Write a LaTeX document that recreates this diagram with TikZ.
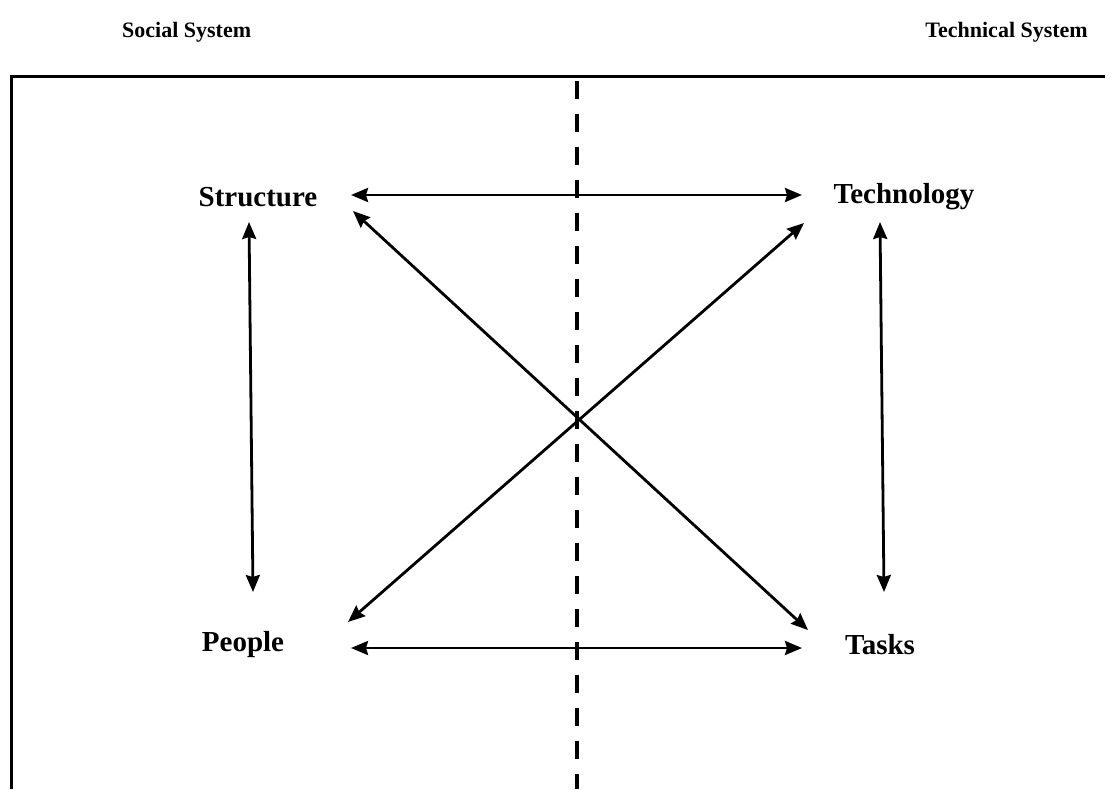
\documentclass[tikz,border=0pt]{standalone}
\usepackage{fontspec}
\setmainfont{Liberation Serif}
\usetikzlibrary{arrows.meta}
\begin{document}
\begin{tikzpicture}[x=1pt,y=-1pt,
  lbl/.style={font=\fontsize{29}{32}\selectfont\bfseries, inner sep=0pt},
  hdr/.style={font=\fontsize{22}{26}\selectfont\bfseries, inner sep=0pt},
  arr/.style={line width=2.8pt, {Stealth[length=17pt,width=14pt,inset=2pt]}-{Stealth[length=17pt,width=14pt,inset=2pt]}},
  frame/.style={line width=3pt},
  divider/.style={line width=4pt, dash pattern=on 18pt off 15pt}]
\useasboundingbox (0,0) rectangle (1115,789);

% headings
\node[hdr, anchor=west] (social) at (122,32) {Social System};
\node[hdr, anchor=east] (technical) at (1088,32) {Technical System};

% open frame and the dividing line
\draw[frame] (11,789) -- (11,77) -- (1105,77);
\draw[divider] (577,81) -- (577,789);

% the four elements
\node[lbl] (structure) at (258,197) {Structure};
\node[lbl] (technology) at (904,197) {Technology};
\node[lbl] (people) at (243,645) {People};
\node[lbl] (tasks) at (880,645) {Tasks};

% arrow end points around each element
\coordinate (s-r) at (351,195);
\coordinate (s-b) at (249,222);
\coordinate (s-d) at (353,211);
\coordinate (t-l) at (802,195);
\coordinate (t-b) at (880,222);
\coordinate (t-d) at (804,223);
\coordinate (p-r) at (351,648);
\coordinate (p-t) at (253,592);
\coordinate (p-d) at (348,622);
\coordinate (k-l) at (802,648);
\coordinate (k-t) at (884,592);
\coordinate (k-d) at (808,630);

% relations
\draw[arr] (s-r) -- (t-l);
\draw[arr] (p-r) -- (k-l);
\draw[arr] (s-b) -- (p-t);
\draw[arr] (t-b) -- (k-t);
\draw[arr] (s-d) -- (k-d);
\draw[arr] (p-d) -- (t-d);
\end{tikzpicture}
\end{document}
